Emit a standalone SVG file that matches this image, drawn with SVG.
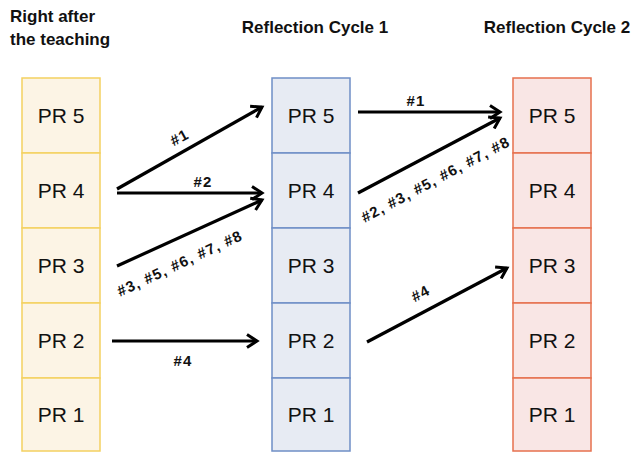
<svg xmlns="http://www.w3.org/2000/svg" width="634" height="453" viewBox="0 0 634 453">
<defs>
<style>
.hdr{font-family:"Liberation Sans",Arial,sans-serif;font-weight:bold;font-size:17px;fill:#111}
.pr{font-family:"Liberation Sans",Arial,sans-serif;font-size:21px;fill:#111;text-anchor:middle}
.lbl{font-family:"Liberation Sans",Arial,sans-serif;font-weight:bold;font-size:15px;letter-spacing:1.1px;fill:#111;text-anchor:middle}
.y{fill:#fcf4e5;stroke:#f4d160;stroke-width:1.5}
.b{fill:#e7ebf3;stroke:#6f8fc6;stroke-width:1.5}
.r{fill:#f9e6e5;stroke:#e6704e;stroke-width:1.5}
.arr{stroke:#000;stroke-width:3.2;fill:none;marker-end:url(#ah)}
</style>
<marker id="ah" viewBox="0 0 16 16" refX="13" refY="8" markerWidth="16" markerHeight="16" markerUnits="userSpaceOnUse" orient="auto">
<path d="M3,1.5 L13,8 L3,14.5" fill="none" stroke="#000" stroke-width="3"/>
</marker>
</defs>
<rect width="634" height="453" fill="#fff"/>
<g id="headers">
<text class="hdr" x="10" y="22">Right after</text>
<text class="hdr" x="10" y="45">the teaching</text>
<text class="hdr" x="315" y="33" text-anchor="middle">Reflection Cycle 1</text>
<text class="hdr" x="557" y="33" text-anchor="middle">Reflection Cycle 2</text>
</g>
<g id="col0">
<g id="a5"><rect class="y" x="22" y="78" width="78" height="75"/><text class="pr" x="61" y="123">PR 5</text></g>
<g id="a4"><rect class="y" x="22" y="153" width="78" height="75"/><text class="pr" x="61" y="198">PR 4</text></g>
<g id="a3"><rect class="y" x="22" y="228" width="78" height="75"/><text class="pr" x="61" y="273">PR 3</text></g>
<g id="a2"><rect class="y" x="22" y="303" width="78" height="75"/><text class="pr" x="61" y="348">PR 2</text></g>
<g id="a1"><rect class="y" x="22" y="378" width="78" height="73"/><text class="pr" x="61" y="422">PR 1</text></g>
</g>
<g id="col1">
<g id="b5"><rect class="b" x="272" y="78" width="78" height="75"/><text class="pr" x="311" y="123">PR 5</text></g>
<g id="b4"><rect class="b" x="272" y="153" width="78" height="75"/><text class="pr" x="311" y="198">PR 4</text></g>
<g id="b3"><rect class="b" x="272" y="228" width="78" height="75"/><text class="pr" x="311" y="273">PR 3</text></g>
<g id="b2"><rect class="b" x="272" y="303" width="78" height="75"/><text class="pr" x="311" y="348">PR 2</text></g>
<g id="b1"><rect class="b" x="272" y="378" width="78" height="73"/><text class="pr" x="311" y="422">PR 1</text></g>
</g>
<g id="col2">
<g id="c5"><rect class="r" x="513" y="78" width="78" height="75"/><text class="pr" x="552" y="123">PR 5</text></g>
<g id="c4"><rect class="r" x="513" y="153" width="78" height="75"/><text class="pr" x="552" y="198">PR 4</text></g>
<g id="c3"><rect class="r" x="513" y="228" width="78" height="75"/><text class="pr" x="552" y="273">PR 3</text></g>
<g id="c2"><rect class="r" x="513" y="303" width="78" height="75"/><text class="pr" x="552" y="348">PR 2</text></g>
<g id="c1"><rect class="r" x="513" y="378" width="78" height="73"/><text class="pr" x="552" y="422">PR 1</text></g>
</g>
<g id="connectors">
<line class="arr" x1="117" y1="189" x2="262" y2="107"/>
<line class="arr" x1="117" y1="193" x2="262" y2="193"/>
<line class="arr" x1="117" y1="266" x2="262" y2="200"/>
<line class="arr" x1="112" y1="341" x2="257" y2="341"/>
<line class="arr" x1="358" y1="112" x2="500" y2="112"/>
<line class="arr" x1="358" y1="193" x2="500" y2="118"/>
<line class="arr" x1="367" y1="342" x2="507" y2="268"/>
<text class="lbl" transform="translate(182,142) rotate(-29)">#1</text>
<text class="lbl" x="203" y="187">#2</text>
<text class="lbl" transform="translate(182,268) rotate(-25)">#3, #5, #6, #7, #8</text>
<text class="lbl" x="183" y="366">#4</text>
<text class="lbl" x="416" y="106">#1</text>
<text class="lbl" transform="translate(438,184) rotate(-28)">#2, #3, #5, #6, #7, #8</text>
<text class="lbl" transform="translate(423,298) rotate(-28)">#4</text>
</g>
</svg>
